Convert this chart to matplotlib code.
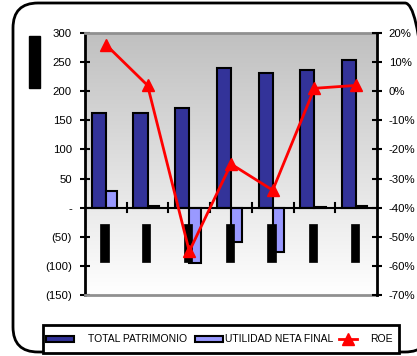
import matplotlib
matplotlib.use("Agg")
import matplotlib.pyplot as plt
import numpy as np
from matplotlib.patches import FancyBboxPatch, Rectangle
from matplotlib.lines import Line2D

plt.rcParams['font.family'] = ['Liberation Sans Narrow', 'Liberation Sans', 'DejaVu Sans']

# ---- data ----
years = ["1", "2", "3", "4", "5", "6", "7"]
total_patrimonio = [162, 162, 171, 240, 231, 236, 253]
utilidad_neta = [29, 3, -95, -59, -77, 1, 3]
roe = [16, 2, -55, -25, -34, 1, 2]          # percent

# placeholder data-label blocks under the zero line
label_top = [-28] * 7
label_bottom = [-93] * 7

left_ticks = [300, 250, 200, 150, 100, 50, 0, -50, -100, -150]
left_labels = ["300", "250", "200", "150", "100", "50", "-", "(50)", "(100)", "(150)"]
right_ticks = [20, 10, 0, -10, -20, -30, -40, -50, -60, -70]
right_labels = ["20%", "10%", "0%", "-10%", "-20%", "-30%", "-40%", "-50%", "-60%", "-70%"]

dark = "#333399"
light = "#9999ff"
red = "#ff0000"

W, H = 417, 356
fig = plt.figure(figsize=(W / 100, H / 100), dpi=100)

# outer rounded frame
frame = FancyBboxPatch((13 / W, 4 / H), (430 - 13) / W, (353 - 4) / H,
                       boxstyle="round,pad=0,rounding_size=0.06",
                       transform=fig.transFigure, fill=False, ec="black", lw=2.0,
                       clip_on=False, mutation_aspect=W / H)
fig.patches.append(frame)

# black title block at left
fig.patches.append(Rectangle((29 / W, 1 - 88 / H), 11 / W, 52 / H,
                             transform=fig.transFigure, fc="black", ec="black"))

ax = fig.add_axes([85 / W, 61 / H, 292 / W, 262 / H])
x = np.arange(len(years))
ax.set_xlim(-0.5, len(years) - 0.5)
ax.set_ylim(-150, 300)

# gradient background
grad = np.linspace(0, 1, 256).reshape(-1, 1)
cmap = matplotlib.colors.LinearSegmentedColormap.from_list("bg", ["#ffffff", "#c0c0c0"])
ax.imshow(grad, aspect="auto", cmap=cmap, origin="lower",
          extent=(-0.5, len(years) - 0.5, -150, 300), zorder=0)

ax.bar(x, total_patrimonio, width=-0.34, align="edge", color=dark, ec="black", lw=1.5, zorder=2)
ax.bar(x, utilidad_neta, width=0.27, align="edge", color=light, ec="black", lw=1.5, zorder=2)

tops = np.array(label_top)
bots = np.array(label_bottom)
ax.bar(x - 0.03, tops - bots, bottom=bots, width=0.2, color="black", ec="black", lw=0.5, zorder=3)

ax.axhline(0, color="black", lw=1.5, zorder=4)
for b in np.arange(0.5, len(years) - 0.5, 1):
    ax.plot([b, b], [-8, 8], color="black", lw=1.5, zorder=4)

ax.set_xticks([])
ax.set_yticks(left_ticks)
ax.set_yticklabels(left_labels, fontsize=8.2)
ax.tick_params(axis="y", direction="inout", length=7, width=1.5, pad=6)
ax.spines["left"].set_linewidth(2)
for s in ["top", "bottom"]:
    ax.spines[s].set_color("#909090")
    ax.spines[s].set_linewidth(2)
ax.spines["right"].set_visible(False)

ax2 = ax.twinx()
ax2.set_ylim(-70, 20)
ax2.plot(x, roe, color=red, lw=2, marker="^", markersize=9, zorder=5)
ax2.set_yticks(right_ticks)
ax2.set_yticklabels(right_labels, fontsize=8.2)
ax2.tick_params(axis="y", direction="inout", length=7, width=1.5, pad=5)
ax2.spines["right"].set_linewidth(2)
for s in ["top", "bottom", "left"]:
    ax2.spines[s].set_visible(False)

# legend box
fig.patches.append(Rectangle((43 / W, 1 - 353 / H), (399 - 43) / W, 28 / H,
                             transform=fig.transFigure, fill=True, fc="white", ec="black", lw=2))
ly = 1 - 339 / H
fig.patches.append(Rectangle((46 / W, ly - 3 / H), 28 / W, 6 / H, transform=fig.transFigure,
                             fc=dark, ec="black", lw=1.5))
fig.text(88 / W, ly, "TOTAL PATRIMONIO", fontsize=7.5, va="center", ha="left")
fig.patches.append(Rectangle((195 / W, ly - 3 / H), 28 / W, 6 / H, transform=fig.transFigure,
                             fc=light, ec="black", lw=1.5))
fig.text(225 / W, ly, "UTILIDAD NETA FINAL", fontsize=7.5, va="center", ha="left")
fig.lines.append(Line2D([339 / W, 357 / W], [ly, ly], transform=fig.transFigure,
                        color=red, lw=2))
fig.lines.append(Line2D([348 / W], [ly], transform=fig.transFigure,
                        color=red, marker="^", markersize=9, ls="none"))
fig.text(370 / W, ly, "ROE", fontsize=7.5, va="center", ha="left")

fig.savefig("out.png", dpi=100)
